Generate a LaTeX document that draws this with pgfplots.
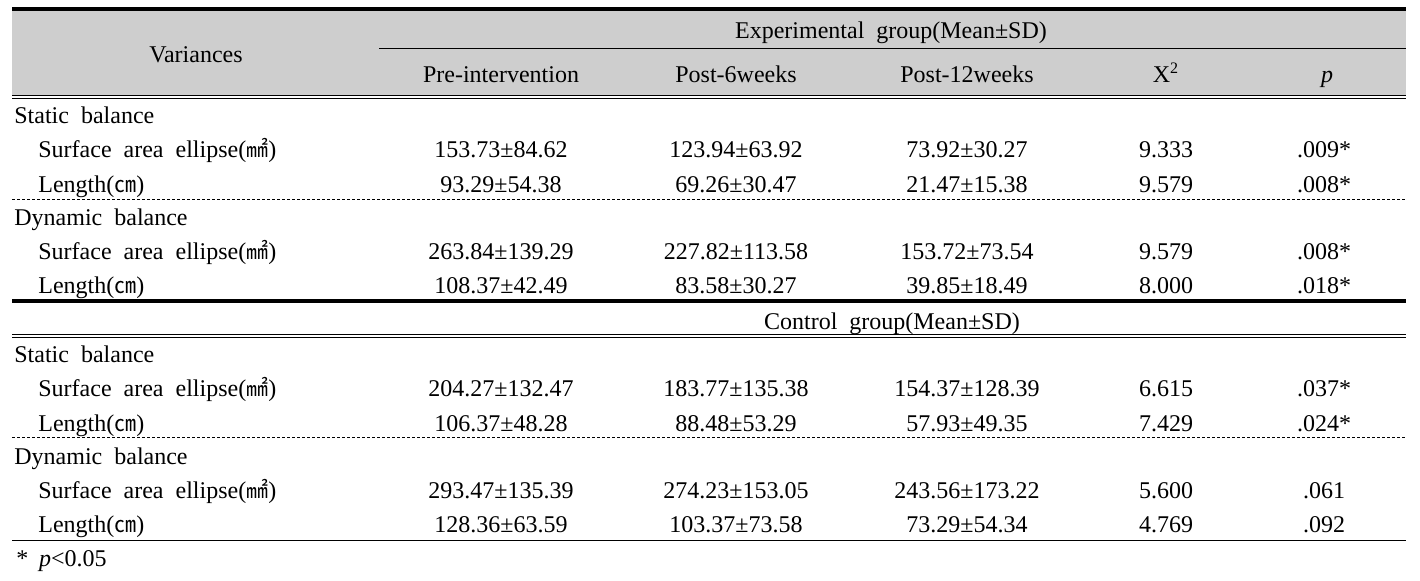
\documentclass[border=0pt]{standalone}
\usepackage{pgfplots}
\pgfplotsset{compat=1.18}
\usepackage{fontspec}
\setmainfont{Liberation Serif}
\newfontfamily\cjk{Noto Sans CJK KR}
\protected\def\mmsq{{\cjk\fontsize{11}{12}\selectfont ㎟}}
\protected\def\cmu{{\cjk\fontsize{11}{12}\selectfont ㎝}}
\protected\def\ws{\hspace{0.5em}}
\definecolor{hdr}{RGB}{206,206,206}
\begin{document}
\begin{tikzpicture}
\useasboundingbox (0,0) rectangle (710pt,290pt);
\begin{axis}[
  width=710pt, height=290pt, scale only axis,
  xmin=0, xmax=1420, ymin=0, ymax=580, y dir=reverse,
  axis lines=none, clip=false,
  every node near coord/.append style={font=\fontsize{12}{14}\selectfont, inner sep=0pt, text=black},
]
% header background and rules
\fill[hdr] (axis cs:12,11) rectangle (axis cs:1406,95);
\draw[line width=2pt] (axis cs:12,9) -- (axis cs:1406,9);
\draw[line width=0.5pt] (axis cs:379,48) -- (axis cs:1406,48);
\draw[line width=0.5pt] (axis cs:12,95.5) -- (axis cs:1406,95.5);
\draw[line width=0.5pt] (axis cs:12,98.5) -- (axis cs:1406,98.5);
\draw[line width=0.5pt, dash pattern=on 1.5pt off 1pt] (axis cs:12,199) -- (axis cs:1406,199);
\draw[line width=2pt] (axis cs:12,301) -- (axis cs:1406,301);
\draw[line width=0.5pt] (axis cs:12,334) -- (axis cs:1406,334);
\draw[line width=0.5pt] (axis cs:12,337.5) -- (axis cs:1406,337.5);
\draw[line width=0.5pt, dash pattern=on 1.5pt off 1pt] (axis cs:12,437) -- (axis cs:1406,437);
\draw[line width=0.5pt] (axis cs:12,540) -- (axis cs:1406,540);

% left-aligned labels
\addplot[draw=none, mark=none, nodes near coords, point meta=explicit symbolic,
  every node near coord/.append style={anchor=base west}] coordinates {
  (14,123) [Static\ws balance]
  (38,157) [Surface\ws area\ws ellipse(\mmsq)]
  (38,192) [Length(\cmu)]
  (14,225) [Dynamic\ws balance]
  (38,259) [Surface\ws area\ws ellipse(\mmsq)]
  (38,293) [Length(\cmu)]
  (14,362) [Static\ws balance]
  (38,396) [Surface\ws area\ws ellipse(\mmsq)]
  (38,431) [Length(\cmu)]
  (14,464) [Dynamic\ws balance]
  (38,498) [Surface\ws area\ws ellipse(\mmsq)]
  (38,532) [Length(\cmu)]
  (16,566) [*\hspace{0.45em}\textit{p}<0.05]
};

% centered headers
\addplot[draw=none, mark=none, nodes near coords, point meta=explicit symbolic,
  every node near coord/.append style={anchor=base}] coordinates {
  (196,62) [Variances]
  (891,38) [Experimental\ws group(Mean±SD)]
  (501,82) [Pre-intervention]
  (736,82) [Post-6weeks]
  (967,82) [Post-12weeks]
  (1166,82) [X\textsuperscript{2}]
  (1327,82) [\textit{p}]
  (892,329) [Control\ws group(Mean±SD)]
};

% Pre-intervention
\addplot[draw=none, mark=none, nodes near coords, point meta=explicit symbolic,
  every node near coord/.append style={anchor=base}] coordinates {
  (501,157) [153.73±84.62]
  (501,192) [93.29±54.38]
  (501,259) [263.84±139.29]
  (501,293) [108.37±42.49]
  (501,396) [204.27±132.47]
  (501,431) [106.37±48.28]
  (501,498) [293.47±135.39]
  (501,532) [128.36±63.59]
};
% Post-6weeks
\addplot[draw=none, mark=none, nodes near coords, point meta=explicit symbolic,
  every node near coord/.append style={anchor=base}] coordinates {
  (736,157) [123.94±63.92]
  (736,192) [69.26±30.47]
  (736,259) [227.82±113.58]
  (736,293) [83.58±30.27]
  (736,396) [183.77±135.38]
  (736,431) [88.48±53.29]
  (736,498) [274.23±153.05]
  (736,532) [103.37±73.58]
};
% Post-12weeks
\addplot[draw=none, mark=none, nodes near coords, point meta=explicit symbolic,
  every node near coord/.append style={anchor=base}] coordinates {
  (967,157) [73.92±30.27]
  (967,192) [21.47±15.38]
  (967,259) [153.72±73.54]
  (967,293) [39.85±18.49]
  (967,396) [154.37±128.39]
  (967,431) [57.93±49.35]
  (967,498) [243.56±173.22]
  (967,532) [73.29±54.34]
};
% X2
\addplot[draw=none, mark=none, nodes near coords, point meta=explicit symbolic,
  every node near coord/.append style={anchor=base}] coordinates {
  (1166,157) [9.333]
  (1166,192) [9.579]
  (1166,259) [9.579]
  (1166,293) [8.000]
  (1166,396) [6.615]
  (1166,431) [7.429]
  (1166,498) [5.600]
  (1166,532) [4.769]
};
% p
\addplot[draw=none, mark=none, nodes near coords, point meta=explicit symbolic,
  every node near coord/.append style={anchor=base}] coordinates {
  (1324,157) [.009*]
  (1324,192) [.008*]
  (1324,259) [.008*]
  (1324,293) [.018*]
  (1324,396) [.037*]
  (1324,431) [.024*]
  (1324,498) [.061]
  (1324,532) [.092]
};
\end{axis}
\end{tikzpicture}
\end{document}
